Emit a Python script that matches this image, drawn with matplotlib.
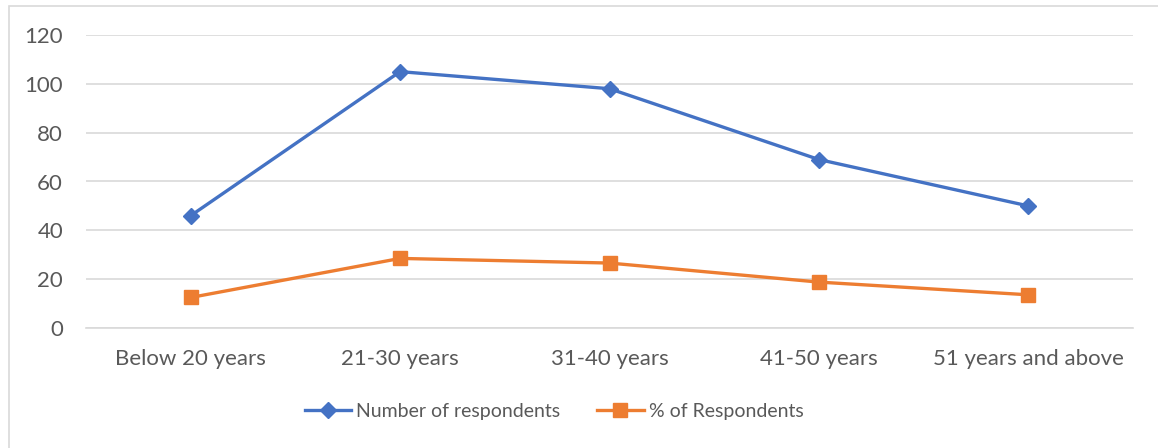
import matplotlib.pyplot as plt
from matplotlib.patches import Rectangle
from matplotlib.lines import Line2D

age_groups = ["Below 20 years", "21-30 years", "31-40 years", "41-50 years", "51 years and above"]
respondents = [46, 105, 98, 69, 50]
pct_respondents = [12.5, 28.5, 26.6, 18.8, 13.6]
y_ticks = [0, 20, 40, 60, 80, 100, 120]

plt.rcParams["font.family"] = ["Lato", "DejaVu Sans"]
text_color = "#595959"
blue = "#4472C4"
orange = "#ED7D31"

fig = plt.figure(figsize=(11.58, 4.48), dpi=100)
ax = fig.add_axes([86 / 1158, 1 - 328 / 448, (1133 - 86) / 1158, (328 - 35) / 448])

# chart frame
fig.patches.append(Rectangle((9 / 1158, -0.1), 1.2, 1 - 6 / 448 + 0.1,
                             transform=fig.transFigure, fill=False,
                             edgecolor="#d9d9d9", linewidth=1.2))

x = list(range(len(age_groups)))
ax.plot(x, respondents, color=blue, linewidth=2.4, marker="D", markersize=8,
        label="Number of respondents", zorder=3)
ax.plot(x, pct_respondents, color=orange, linewidth=2.4, marker="s", markersize=10,
        label="% of Respondents", zorder=3)

ax.set_xlim(-0.5, len(age_groups) - 0.5)
ax.set_ylim(0, 120)
ax.set_yticks(y_ticks)
ax.set_xticks(x)
ax.set_xticklabels(age_groups)
ax.grid(axis="y", color="#d9d9d9", linewidth=1.2)
ax.set_axisbelow(True)
for side in ["top", "right", "left"]:
    ax.spines[side].set_visible(False)
ax.spines["bottom"].set_color("#d9d9d9")
ax.spines["bottom"].set_linewidth(1.2)
ax.tick_params(axis="both", length=0, labelsize=16, colors=text_color)
ax.tick_params(axis="x", pad=15)
ax.tick_params(axis="y", pad=16.5)

handles = [Line2D([0], [0], color=blue, linewidth=2.4, marker="D", markersize=8),
           Line2D([0], [0], color=orange, linewidth=2.4, marker="s", markersize=10)]
fig.legend(handles, ["Number of respondents", "% of Respondents"],
           loc="center", bbox_to_anchor=(554 / 1158, 1 - 411 / 448), ncol=2,
           frameon=False, fontsize=14, labelcolor=text_color,
           handlelength=2.4, handletextpad=0.25, columnspacing=1.9)

fig.savefig("out.png", dpi=100)
